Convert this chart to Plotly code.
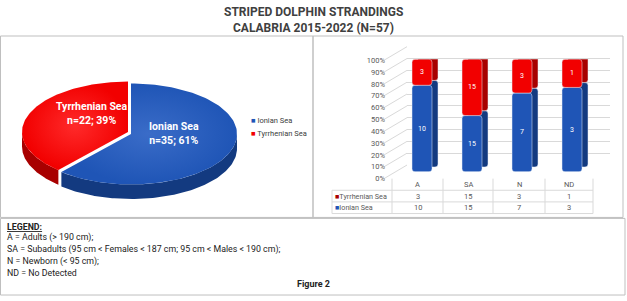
import numpy as np
import plotly.graph_objects as go

W, H = 627, 301

# ---------------- data ----------------
title_lines = ["STRIPED DOLPHIN STRANDINGS", "CALABRIA 2015-2022 (N=57)"]
seas = ["Ionian Sea", "Tyrrhenian Sea"]
sea_totals = [35, 22]
categories = ["A", "SA", "N", "ND"]
ionian = [10, 15, 7, 3]
tyrrhenian = [3, 15, 3, 1]
pct_ticks = list(range(0, 101, 10))
legend_title = "LEGEND:"
legend_lines = [
    "A = Adults (> 190 cm);",
    "SA = Subadults (95 cm < Females < 187 cm; 95 cm < Males < 190 cm);",
    "N = Newborn (< 95 cm);",
    "ND = No Detected",
]
caption = "Figure 2"

# ---------------- style ----------------
FONT = "Roboto, Arial, sans-serif"
TXT = "#404040"
BLUE, BLUE_D = "#1f55b6", "#133a80"
RED, RED_D = "#f20000", "#a80000"
GRID = "#d9d9d9"


def px(x):
    return x / W


def py(y):
    return 1 - y / H


def note(x, y, text, size, color, xanchor="center", **kw):
    fig.add_annotation(x=px(x), y=py(y), xref="paper", yref="paper", text=text,
                       showarrow=False, xanchor=xanchor, yanchor="middle",
                       font=dict(family=FONT, size=size, color=color), **kw)


fig = go.Figure()

# ---------------- pie (elliptical 3-D look) on pixel axis ----------------
cx, cy, ra, rb, depth = 131, 134, 106, 52, 15
total = sum(sea_totals)
fr = [v / total for v in sea_totals]
t_cut = 360 * fr[0]
offs = [(0, 0), (-3, -2)]  # explode for second slice
spans = [(0, t_cut), (t_cut, 360)]
tops = [(BLUE, "#3a6cc8"), (RED, "#ff2a2a")]
sides = [BLUE_D, RED_D]


def arc(t0, t1, ox, oy, dy=0, n=120):
    t = np.radians(np.linspace(t0, t1, n))
    return cx + ox + ra * np.sin(t), cy + oy - rb * np.cos(t) + dy


for i in [1, 0]:
    t0, t1 = spans[i]
    ox, oy = offs[i]
    s0, s1 = max(t0, 90), min(t1, 270)
    if s1 > s0:
        xa, ya = arc(s0, s1, ox, oy)
        xb, yb = arc(s1, s0, ox, oy, depth)
        fig.add_trace(go.Scatter(x=np.r_[xa, xb, xa[:1]], y=np.r_[ya, yb, ya[:1]],
                                 fill="toself", fillcolor=sides[i], mode="lines",
                                 line=dict(width=0), hoverinfo="skip",
                                 showlegend=False, xaxis="x", yaxis="y"))
    xa, ya = arc(t0, t1, ox, oy)
    fig.add_trace(go.Scatter(x=np.r_[cx + ox, xa, cx + ox], y=np.r_[cy + oy, ya, cy + oy],
                             fill="toself", mode="lines", line=dict(width=0),
                             fillgradient=dict(type="radial",
                                               colorscale=[[0, tops[i][1]], [1, tops[i][0]]]),
                             hoverinfo="skip", showlegend=False, xaxis="x", yaxis="y"))

pie_label_pos = [(174, 134), (92, 113)]
for i, name in enumerate(seas):
    note(pie_label_pos[i][0], pie_label_pos[i][1],
         f"<b>{name}<br>n={sea_totals[i]}; {round(fr[i]*100)}%</b>", 10.5, "white",
         align="center")

pie_cols = [BLUE, RED]
for i, name in enumerate(seas):
    note(249, 120 + 14 * i, f"<span style='color:{pie_cols[i]}'>■</span> {name}", 7.5, TXT,
         xanchor="left")

# ---------------- 100% stacked 3-D-ish bars ----------------
tot = [a + b for a, b in zip(ionian, tyrrhenian)]
ion_p = [a / t * 100 for a, t in zip(ionian, tot)]
tyr_p = [b / t * 100 for b, t in zip(tyrrhenian, tot)]
dx, dy = 0.12, 4.3
W_BAR, OFF = 0.4, -0.1

fig.add_trace(go.Bar(x=categories, y=ion_p, base=[dy] * 4, offset=OFF + dx, width=W_BAR,
                     marker_color=BLUE_D, hoverinfo="skip", showlegend=False,
                     xaxis="x3", yaxis="y3"))
fig.add_trace(go.Bar(x=categories, y=tyr_p, base=[p + dy for p in ion_p], offset=OFF + dx,
                     width=W_BAR, marker_color=RED_D, hoverinfo="skip", showlegend=False,
                     xaxis="x3", yaxis="y3"))
fig.add_trace(go.Bar(x=categories, y=ion_p, base=[0] * 4, offset=OFF, width=W_BAR,
                     marker_color=BLUE, text=ionian, textposition="inside",
                     insidetextanchor="middle", textangle=0,
                     textfont=dict(family=FONT, size=7, color="white"),
                     hoverinfo="skip", showlegend=False, xaxis="x3", yaxis="y3"))
fig.add_trace(go.Bar(x=categories, y=tyr_p, base=ion_p, offset=OFF, width=W_BAR,
                     marker_color=RED, text=tyrrhenian, textposition="inside",
                     insidetextanchor="middle", textangle=0,
                     textfont=dict(family=FONT, size=7, color="white"),
                     hoverinfo="skip", showlegend=False, xaxis="x3", yaxis="y3"))

fig.add_trace(go.Scatter(x=[None], y=[None], xaxis="x2", yaxis="y2", showlegend=False))
fig.add_trace(go.Scatter(x=[None], y=[None], xaxis="x4", yaxis="y4", showlegend=False))

gy0, gy1 = 166, 44      # back wall 0% / 100%
ly0, ly1 = 180, 58      # label 0% / 100%
for t in pct_ticks:
    yb = gy0 + (gy1 - gy0) * t / 100
    yl = ly0 + (ly1 - ly0) * t / 100
    fig.add_shape(type="line", xref="paper", yref="paper", x0=px(384), y0=py(yl),
                  x1=px(407), y1=py(yb), line=dict(color=GRID, width=1), layer="below")

# table
col_edges = [392, 443, 493, 545, 593]
for x in col_edges:
    fig.add_shape(type="line", xref="paper", yref="paper", x0=px(x), x1=px(x),
                  y0=py(180), y1=py(216), line=dict(color=GRID, width=1))
fig.add_shape(type="line", xref="paper", yref="paper", x0=px(332), x1=px(332),
              y0=py(192), y1=py(216), line=dict(color=GRID, width=1))
for y in [192, 204, 216]:
    fig.add_shape(type="line", xref="paper", yref="paper", x0=px(332), x1=px(593),
                  y0=py(y), y1=py(y), line=dict(color=GRID, width=1))
row_y = [186.5, 198, 210]
for j, c in enumerate(categories):
    xc = (col_edges[j] + col_edges[j + 1]) / 2
    note(xc, row_y[0], c, 7.5, "#595959")
    note(xc, row_y[1], str(tyrrhenian[j]), 7.5, "#595959")
    note(xc, row_y[2], str(ionian[j]), 7.5, "#595959")
for name, col, yy in [(seas[1], RED_D, row_y[1]), (seas[0], BLUE, row_y[2])]:
    note(333, yy, f"<span style='color:{col}'>■</span>{name}", 7.2, "#595959", xanchor="left")

# ---------------- frames ----------------
for x0, y0, x1, y1 in [(0.5, 33, 313, 220), (313, 33, 623, 220), (0.5, 221, 625, 300)]:
    fig.add_shape(type="rect", xref="paper", yref="paper", x0=px(x0), x1=px(x1),
                  y0=py(y1), y1=py(y0), line=dict(color="#bfbfbf", width=1))

# ---------------- titles & legend text ----------------
for k, t in enumerate(title_lines):
    note(313, 8 + 17 * k, f"<b>{t}</b>", 12, TXT)
note(5, 230, f"<b><u>{legend_title}</u></b>", 8.8, "#222222", xanchor="left")
for k, t in enumerate(legend_lines):
    note(5, 241 + 12 * k, t, 8.8, "#222222", xanchor="left")
note(313, 289, f"<b>{caption}</b>", 9, "#222222")

hid = dict(visible=False, fixedrange=True)
fig.update_layout(
    width=W, height=H, autosize=False, margin=dict(l=0, r=0, t=0, b=0),
    paper_bgcolor="white", plot_bgcolor="rgba(0,0,0,0)", barmode="overlay",
    barcornerradius=3, showlegend=False,
    xaxis=dict(range=[0, W], domain=[0, 1], **hid),
    yaxis=dict(range=[H, 0], domain=[0, 1], **hid),
    xaxis2=dict(range=[0, 1], domain=[px(407), px(610)], anchor="y2", **hid),
    yaxis2=dict(range=[0, 100], domain=[py(gy0), py(gy1)], anchor="x2", tickvals=pct_ticks,
                showgrid=True, gridcolor=GRID, gridwidth=1, zeroline=False,
                showticklabels=False, fixedrange=True),
    xaxis3=dict(range=[-0.5, 3.86], domain=[px(392), px(610)], anchor="y3",
                type="category", **hid),
    yaxis3=dict(range=[0, 100], domain=[py(173), py(57)], anchor="x3", **hid),
    xaxis4=dict(range=[0, 1], domain=[px(386), px(400)], anchor="y4", **hid),
    yaxis4=dict(range=[0, 100], domain=[py(ly0), py(ly1)], anchor="x4", tickvals=pct_ticks,
                ticktext=[f"{t}%" for t in pct_ticks], showgrid=False, zeroline=False,
                showline=False, ticks="", tickfont=dict(family=FONT, size=7.5, color="#595959"),
                fixedrange=True),
)

fig.write_html("out.html", config={"displayModeBar": False},
               post_script="document.body.style.margin='0';")
